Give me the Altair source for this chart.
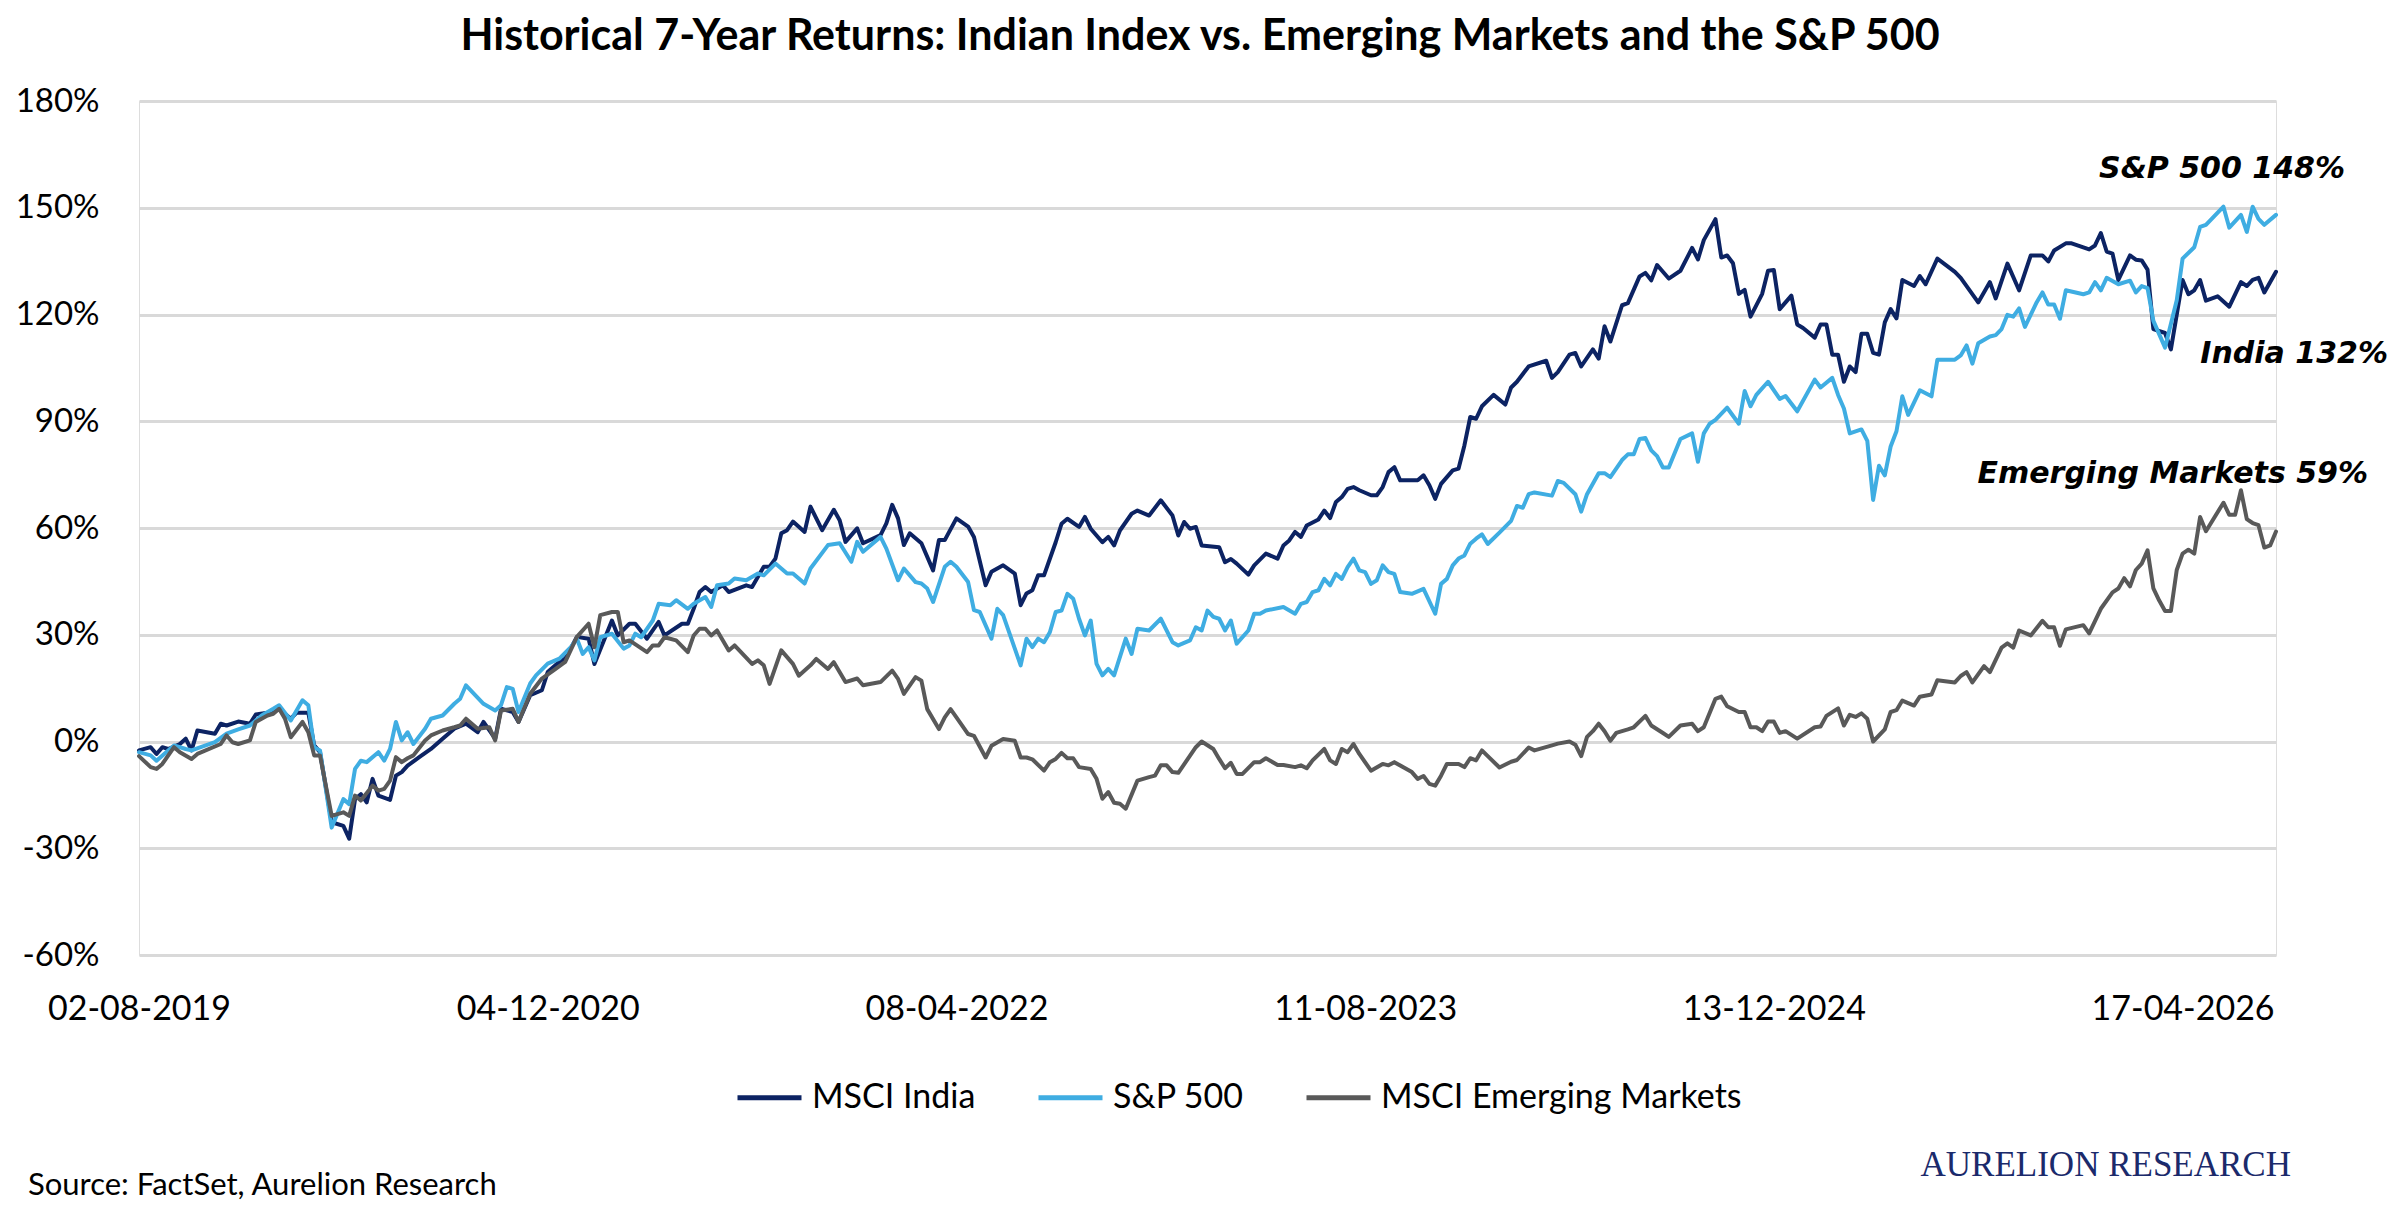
import altair as alt
import pandas as pd

# ---------------- data ----------------
START = "2019-08-02"  # first weekly observation
END = "2026-08-07"    # last weekly observation (right edge of the plot)

# week offsets from START and cumulative return (%) at that week
india_wk = [0, 2, 3, 4, 5, 7, 8, 9, 10, 13, 14, 15, 17, 19, 20, 22, 24, 26, 27, 29, 30, 31, 33, 35, 36, 37, 38, 39, 40, 41,
            43, 44, 45, 46, 48, 50, 52, 54, 56, 58, 59, 61, 62, 64, 65, 67, 69, 70, 72, 73, 75,
            77, 78, 81, 82, 84, 85, 87, 89, 90, 93, 94, 95, 96, 97, 98, 100, 101, 104, 105, 107, 108, 109, 110, 111, 112,
            114, 115, 117, 119, 120, 121, 123, 124, 127, 128, 129, 130, 131, 132, 134, 136, 137, 138, 140, 142, 143,
            145, 146, 148, 150, 151, 152, 153,
            154, 155, 157, 158, 159, 161, 162, 163, 165, 166, 167, 168, 170, 171, 173, 175, 177, 178, 179, 180, 181,
            182, 185, 186, 187, 188, 190, 191, 193, 195, 196, 197, 198, 199, 200, 202, 203, 204, 205, 206, 207, 208,
            209, 211, 212, 213, 214, 215, 216, 219, 220, 221, 222, 223, 225, 226, 227, 228, 229,
            230, 232, 234, 235, 236, 238, 241, 242, 243, 245, 246, 247, 249, 250, 251, 252, 254, 255, 257, 258, 259,
            260, 262, 264, 266, 267, 268, 270, 271, 272, 273, 274, 275, 276, 278, 279, 280, 281, 283, 284, 285, 287,
            288, 289, 290, 291, 292, 293, 294, 295, 296, 297, 298, 299, 300, 301,
            302, 304, 305, 306, 308, 311, 312, 315, 317, 318, 320, 322, 324, 326, 327, 328, 330, 331, 334, 335, 336,
            337, 338, 339, 341, 342, 343, 344, 345, 347, 348, 350, 351, 352, 353, 354, 356, 358, 360, 361, 362, 363,
            364, 366]
india_val = [-2.5, -1.6, -3.5, -1.6, -2.1, -0.7, 0.8, -2.5, 3.1, 2.2, 5.0, 4.5, 5.6, 5.0, 7.6, 8.1, 9.2, 6.4, 8.1, 8.1,
             -1.1, -3.0, -22.7, -23.7, -27.3, -16.2, -14.8, -17.1, -10.5, -15.2,
             -16.4, -9.6, -8.6, -6.8, -4.4, -2.1, 0.8, 3.6, 5.0, 2.6, 5.5, 0.8, 9.2, 8.3, 5.5, 13.0, 14.4, 19.5, 22.4,
             23.3, 29.4,
             28.9, 21.8, 34.0, 29.8, 33.1, 33.1, 28.9, 33.6, 29.8, 33.1, 33.1, 37.3, 42.0, 43.4, 42.0, 43.9, 42.0, 43.9,
             43.4, 49.1, 49.1, 51.4, 58.5, 59.4, 61.8,
             58.9, 66.0, 59.4, 65.1, 62.2, 56.1, 59.9, 55.7, 58.0, 61.3, 66.5, 62.7, 55.2, 58.5, 55.7, 48.1, 56.6, 56.6,
             62.7, 60.4, 57.5,
             43.9, 47.7, 49.5, 47.2, 38.3, 41.6, 42.5,
             46.7, 46.7, 56.0, 61.2, 62.6, 60.3, 63.1, 59.8, 56.0, 57.5, 55.1, 59.3, 64.0, 64.9, 63.5, 67.8, 63.5, 57.9,
             61.7, 59.8, 60.3,
             55.1, 54.6, 50.4, 51.3, 50.0, 46.9, 49.5, 52.8, 51.4, 55.1, 56.5, 58.9, 57.5, 60.7, 62.4, 64.9, 62.8, 67.3,
             68.7, 71.0, 71.5,
             70.6, 69.2, 69.2, 71.5, 75.7, 77.1, 73.4, 73.4, 74.8, 72.0, 68.2, 72.4, 76.2, 76.7, 83.2, 91.2, 90.7,
             94.2, 97.4, 94.7, 99.5, 101.1, 105.4, 107.0, 102.2, 103.8, 108.7, 109.2, 105.4, 110.2, 107.6, 116.7, 112.4,
             122.6, 123.2, 130.7, 131.7, 129.6,
             133.9, 130.1, 132.3, 138.7, 135.5, 140.9, 146.8, 136.0, 136.6, 134.4, 125.8, 126.9, 119.4, 125.8, 132.3,
             132.5, 121.5, 125.3, 117.2, 116.2, 113.5,
             117.2, 117.2, 108.7, 108.7, 101.1, 105.4, 103.8, 114.6, 114.6, 109.2, 108.7, 117.8, 121.5, 118.9,
             129.7, 128.0, 130.8, 128.5, 135.7, 132.0, 130.3, 123.4, 129.1, 124.5, 134.3, 126.8, 136.6, 136.6, 134.9,
             138.0, 140.0, 140.0, 138.3, 139.4, 142.9,
             137.7, 137.1, 129.7, 136.6, 135.4, 135.2, 132.6, 115.9, 114.8, 110.2, 129.7, 125.7, 126.8, 129.7, 123.9,
             125.1, 122.2, 129.1, 128.0, 129.7, 130.3,
             126.2, 132.0]

sp_wk = [0, 2, 3, 5, 6, 8, 9, 13, 15, 17, 19, 21, 23, 24, 26, 28, 29, 30, 31, 33, 35, 36, 37, 38, 39, 41, 42, 43, 44, 45,
         46, 47, 49, 50, 52, 54, 55, 56, 59, 61, 62, 63, 64, 65, 67, 68, 70, 72, 74, 75,
         76, 77, 78, 79, 81, 83, 84, 85, 86, 88, 89, 91, 92, 94, 95, 97, 98, 99, 101, 102, 104, 106, 107, 109, 111, 112,
         114, 115, 118, 120, 122, 123, 124, 127, 128, 130, 131, 133, 134, 135, 136, 138, 139, 140, 142, 143, 144, 146,
         147, 148, 151, 152, 153,
         154, 155, 156, 157, 158, 159, 160, 161, 162, 163, 164, 165, 166, 167, 169, 170, 171, 173, 175, 177, 178, 180,
         181, 182, 183, 184, 185, 186, 187, 188, 190, 191, 192, 193, 196, 198, 199, 200, 201, 202, 203, 204, 205, 206,
         207, 208, 209, 210, 211, 212, 213, 214, 215, 216, 218, 220, 222, 223, 224, 225, 226, 227, 228, 229,
         230, 231, 233, 235, 236, 237, 238, 239, 242, 243, 244, 246, 247, 248, 250, 251, 252, 254, 255, 256, 257, 258,
         259, 260, 261, 262, 264, 266, 267, 268, 269, 270, 272, 274, 275, 276, 277, 279, 281, 282, 284, 287, 288, 290,
         291, 292, 293, 295, 296, 297, 298, 299, 300, 301,
         302, 303, 305, 307, 308, 311, 312, 313, 314, 315, 317, 318, 319, 320, 321, 322, 323, 325, 326, 327, 328, 329,
         330, 333, 334, 335, 336, 337, 339, 341, 342, 343, 344, 345, 347, 349, 350, 352, 353, 354, 357, 358, 360, 361,
         362, 363, 364, 366]
sp_val = [-3.0, -3.9, -5.4, -2.5, -1.1, -2.1, -2.5, -0.2, 2.2, 3.4, 4.5, 7.3, 9.2, 10.2, 5.9, 11.6, 10.2, -1.6, -2.5,
          -24.2, -16.2, -17.6, -7.7, -5.4, -5.8, -3.0, -5.4, -2.1, 5.5, 0.3,
          2.6, -0.7, 3.6, 6.4, 7.3, 10.6, 12.0, 15.8, 10.6, 8.7, 10.2, 15.3, 14.8, 8.3, 16.3, 18.6, 21.9, 23.3, 26.6,
          28.9,
          24.6, 26.5, 22.8, 29.3, 30.3, 26.1, 27.0, 30.3, 29.3, 34.0, 38.7, 38.3, 39.7, 37.3, 38.7, 40.6, 37.8, 43.9,
          44.4, 45.8, 45.3, 47.2, 46.7, 50.0, 47.2, 47.2,
          44.4, 48.6, 55.2, 55.7, 50.5, 56.1, 53.3, 57.5, 54.2, 45.3, 48.6, 44.8, 44.4, 43.0, 39.2, 49.1, 50.5, 49.1,
          44.8, 36.9, 36.4, 28.9,
          37.3, 35.5, 21.4, 28.9, 26.5,
          28.9, 27.9, 30.7, 36.4, 36.8, 41.5, 40.1, 34.5, 29.8, 34.0, 21.8, 18.6, 20.4, 18.6, 28.9, 24.6, 31.7, 31.2,
          34.5, 27.9, 27.0, 28.4,
          32.1, 31.2, 36.8, 35.0, 34.5, 31.2, 34.0, 27.5, 31.2, 35.9, 35.9, 36.8, 37.8, 35.9, 38.7, 39.2, 42.0, 42.5,
          45.7, 43.9, 47.1, 45.7,
          49.0, 51.4, 48.1, 47.6, 44.3, 45.3, 49.5, 47.6, 47.1, 42.0, 41.5, 42.9, 35.9, 44.3, 45.7, 49.5, 51.4, 52.3,
          55.6, 57.0,
          58.2, 55.5, 58.7, 62.0, 66.2, 65.7, 69.5, 70.0, 69.1, 73.2, 72.7, 69.5, 64.6, 69.5, 75.4, 75.4, 74.3, 79.1,
          80.7, 80.7, 85.0, 85.3,
          81.8, 80.2, 77.0, 77.0, 85.0, 86.6, 78.6, 86.6, 89.3, 90.4, 93.8, 89.3, 98.5, 94.2, 97.4, 101.1, 96.3, 97.1,
          92.8, 101.7, 99.5, 102.2,
          97.4, 93.6, 86.6, 87.7, 84.5, 67.9, 77.5, 74.8, 82.9, 87.2,
          97.0, 91.8, 98.7, 97.0, 107.3, 107.3, 108.5, 111.3, 106.2, 111.9, 113.8, 114.2, 115.9, 119.9, 119.4, 121.7,
          116.5, 123.4, 126.2, 122.8, 122.8, 118.8,
          126.8, 125.7, 126.2, 129.1, 126.8, 130.3, 128.5, 129.5, 126.2, 128.0, 127.4, 118.2, 110.7, 124.0, 135.7,
          138.9, 144.6, 145.2, 150.3, 144.4, 148.0, 143.2,
          150.3, 146.9, 145.2, 148.0]

em_wk = [0, 2, 3, 4, 6, 7, 9, 10, 14, 15, 16, 17, 19, 20, 22, 23, 24, 25, 26, 28, 29, 30, 31, 33, 35, 36, 37, 38, 40,
         41, 42, 43, 44, 45, 46, 47, 49, 50, 52, 54, 55, 56, 58, 60, 61, 62, 64, 65, 67, 69, 71, 73, 75,
         77, 78, 79, 81, 82, 83, 84, 87, 88, 89, 90, 92, 94, 95, 96, 97, 98, 99, 101, 102, 105, 106, 107, 108, 110, 112,
         113, 115, 116, 118, 119, 121, 123, 124, 127, 129, 130, 131, 133, 134, 135, 137, 138, 139, 140, 142, 143, 145,
         146, 148, 150, 151, 152, 153,
         155, 156, 157, 158, 159, 160, 161, 163, 164, 165, 166, 167, 168, 169, 171, 173, 174, 175, 176, 177, 178, 181,
         182, 184, 185, 186, 187, 188, 189, 191, 192, 193, 195, 196, 198, 199, 200, 201, 203, 204, 205, 206, 207, 208,
         209, 211, 213, 214, 215, 218, 219, 220, 221, 222, 223, 224, 226, 227, 228, 229,
         230, 231, 233, 235, 236, 238, 239, 242, 243, 245, 246, 247, 248, 249, 250, 251, 252, 253, 255, 256, 258, 259,
         261, 262, 264, 266, 267, 268, 270, 271, 272, 274, 275, 276, 277, 278, 279, 280, 281, 282, 284, 287, 288, 289,
         291, 292, 293, 294, 295, 296, 297, 299, 300, 301,
         302, 304, 305, 307, 308, 311, 312, 313, 314, 316, 317, 319, 320, 321, 322, 324, 326, 327, 328, 329, 330, 333,
         334, 336, 338, 339, 340, 341, 342, 343, 344, 345, 346, 347, 348, 349, 350, 351, 352, 353, 354, 357, 358, 359,
         360, 361, 362, 363, 364, 365, 366]
em_val = [-4.1, -7.2, -7.7, -6.3, -1.6, -3.0, -4.9, -3.5, -0.7, 1.7, -0.2, -0.7, 0.3, 5.5, 7.3, 7.8, 9.2, 6.4, 1.2, 5.5,
          2.6, -3.9, -3.9, -20.9, -19.9, -20.9, -15.2, -16.6, -12.4,
          -13.8, -13.3, -11.0, -4.4, -5.8, -4.7, -3.9, 0.3, 1.7, 3.1, 4.0, 4.5, 6.4, 3.6, 4.0, 0.3, 8.7, 9.2, 5.5, 13.4,
          17.7, 20.0, 22.4, 29.4,
          33.1, 26.5, 35.5, 36.4, 36.4, 27.9, 28.4, 25.1, 27.0, 27.0, 29.3, 28.4, 25.1, 29.8, 31.7, 31.7, 29.8, 31.2,
          25.6, 27.0, 21.8, 22.8, 21.4, 16.2, 25.6, 21.8,
          18.5, 21.4, 23.2, 20.4, 22.3, 16.7, 17.7, 15.8, 16.7, 19.9, 17.6, 13.4, 18.1, 17.1, 9.1, 3.5, 6.8, 9.1, 6.8,
          2.1, 1.6, -4.5,
          -1.2, 0.7, 0.2, -4.5, -4.5, -5.0,
          -8.2, -5.8, -4.9, -3.2, -4.7, -4.7, -7.2, -7.7, -10.5, -16.1, -14.2, -17.2, -17.5, -18.9, -11.0, -10.0, -9.6,
          -6.7, -6.7, -8.6, -8.8, -1.6,
          0.0, -2.1, -4.9, -7.5, -6.0, -9.1, -9.1, -5.8, -5.8, -4.7, -6.6, -6.6, -7.2, -6.7, -7.5, -5.3, -2.1, -5.3,
          -6.3, -2.1, -3.0, -0.7,
          -3.5, -8.2, -6.3, -6.7, -5.8, -8.6, -10.5, -9.7, -11.9, -12.4, -9.6, -6.3, -6.3, -7.2, -4.7, -5.3,
          -2.5, -4.1, -7.3, -5.7, -5.2, -1.7, -2.5, -1.1, -0.6, 0.0, -0.9, -4.1, 1.3, 2.9, 5.0, 2.9, 0.2, 2.4, 3.4, 4.0,
          7.2, 4.5,
          2.4, 1.3, 4.5, 5.0, 2.9, 4.0, 12.0, 12.6, 9.9, 8.3, 8.3, 4.0, 4.0, 2.9, 5.6, 5.6, 2.4, 2.9, 0.8, 4.0, 4.2, 7.2,
          9.3, 4.5, 7.5, 6.9, 7.9, 6.4, 0.0, 3.4, 8.3, 8.8,
          11.5, 10.1, 12.6, 13.2, 17.2, 16.6, 18.4, 19.5, 16.6, 21.2, 19.5, 26.4, 27.6, 26.4, 31.2, 29.8, 33.9, 32.1,
          32.1, 26.9, 31.5, 32.7,
          30.4, 37.3, 41.9, 43.0, 45.9, 43.6, 48.2, 50.0, 53.7, 43.0, 39.6, 36.7, 36.7, 48.2, 52.8, 53.9, 52.8, 63.1,
          59.1, 67.1, 63.7, 63.7,
          70.6, 62.5, 61.4, 60.8, 54.5, 55.1, 59.0]

series_names = ["MSCI India", "S&P 500", "MSCI Emerging Markets"]
series_colors = ["#0c2363", "#3fade2", "#595959"]
end_labels = ["India", "S&P 500", "Emerging Markets"]
y_ticks = [-60, -30, 0, 30, 60, 90, 120, 150, 180]
x_tick_dates = ["2019-08-02", "2020-12-04", "2022-04-08", "2023-08-11", "2024-12-13", "2026-04-17"]
title_text = "Historical 7-Year Returns: Indian Index vs. Emerging Markets and the S&P 500"
source_text = "Source: FactSet, Aurelion Research"
brand_text = "AURELION RESEARCH"

# ---------------- build tables ----------------
def frame(wk, vals, name):
    d = pd.Timestamp(START) + pd.to_timedelta([7 * w for w in wk], unit="D")
    return pd.DataFrame({"date": d.strftime("%Y-%m-%d"), "value": vals, "series": name})

frames = [frame(india_wk, india_val, series_names[0]),
          frame(sp_wk, sp_val, series_names[1]),
          frame(em_wk, em_val, series_names[2])]

def dt(s):
    t = pd.Timestamp(s)
    return alt.DateTime(year=t.year, month=t.month, date=t.day, utc=True)

W, H = 2137, 854
FONT = "Lato"

x_enc = alt.X("date:T",
              scale=alt.Scale(type="utc", domain=[dt(START), dt(END)]),
              axis=alt.Axis(title=None, values=[dt(s) for s in x_tick_dates],
                            labelExpr="utcFormat(datum.value, '%d-%m-%Y')",
                            grid=False, domain=False, ticks=False, tickSize=0, labelLimit=0,
                            labelPadding=37, labelFont=FONT, labelFontSize=34, labelColor="#000000",
                            labelFlush=False, labelOverlap=False))
y_enc = alt.Y("value:Q",
              scale=alt.Scale(domain=[-60, 180], nice=False, zero=False),
              axis=alt.Axis(title=None, values=y_ticks, labelExpr="datum.value + '%'", grid=True,
                            gridColor="#d9d9d9", gridWidth=3, domain=False, ticks=False, tickSize=0,
                            labelPadding=40, labelFont=FONT, labelFontSize=33, labelColor="#000000"))
color_enc = alt.Color("series:N",
                      scale=alt.Scale(domain=series_names, range=series_colors),
                      legend=alt.Legend(title=None, orient="none", legendX=596, legendY=962,
                                        direction="horizontal", symbolType="stroke", symbolSize=4096,
                                        symbolStrokeWidth=5, labelFont=FONT, labelFontSize=34,
                                        labelColor="#000000", labelOffset=8, columnPadding=52,
                                        labelLimit=0))

layers = []
for df in frames:
    layers.append(alt.Chart(df).mark_line(strokeWidth=4, strokeJoin="round", strokeCap="round")
                  .encode(x=x_enc, y=y_enc, color=color_enc))

# end-of-series annotations
ann_offsets = [(112, 82), (69, -46), (92, -58)]  # (dx, dy) for India, S&P, EM
for df, lab, (dx, dy) in zip(frames, end_labels, ann_offsets):
    last = df.iloc[[-1]].copy()
    last["label"] = f"{lab} {last['value'].iloc[0]:.0f}%"
    layers.append(alt.Chart(last).mark_text(font="DejaVu Sans", fontWeight="bold", fontStyle="italic",
                                            fontSize=30, align="right", baseline="middle", dx=dx, dy=dy,
                                            color="#000000")
                  .encode(x=x_enc, y=y_enc, text="label:N"))

# title, source and brand
layers.append(alt.Chart(pd.DataFrame({"t": [title_text]})).mark_text(
    font=FONT, fontWeight="bold", fontSize=43, align="center", baseline="alphabetic", color="#000000")
    .encode(x=alt.value(1061), y=alt.value(-51), text="t:N"))
layers.append(alt.Chart(pd.DataFrame({"t": [source_text]})).mark_text(
    font=FONT, fontSize=31, align="left", baseline="middle", color="#000000")
    .encode(x=alt.value(-111), y=alt.value(1085), text="t:N"))
layers.append(alt.Chart(pd.DataFrame({"t": [brand_text]})).mark_text(
    font="Liberation Serif", fontSize=35, align="right", baseline="middle", color="#1b2a6b")
    .encode(x=alt.value(2152), y=alt.value(1064), text="t:N"))

chart = (alt.layer(*layers)
         .properties(width=W, height=H, autosize=alt.AutoSizeParams(type="none"),
                     padding={"left": 131, "top": 93, "right": 112, "bottom": 248})
         .configure_view(stroke=None)
         .configure(background="white"))

chart.save("out.html", embed_options={"renderer": "svg", "actions": False})
